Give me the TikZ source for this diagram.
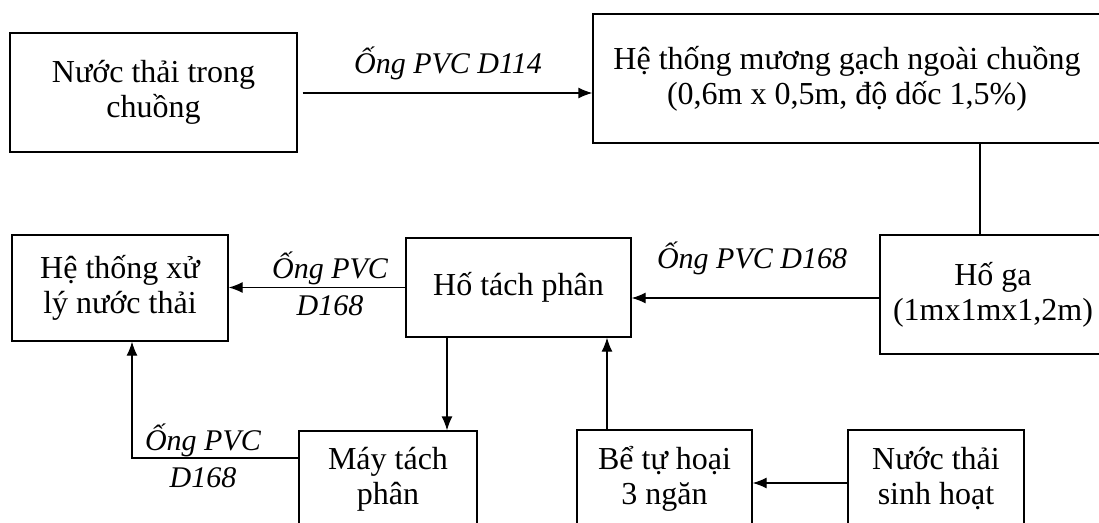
\documentclass[tikz,border=0pt]{standalone}
\usepackage{fontspec}
\setmainfont{Liberation Serif}
\usetikzlibrary{arrows.meta}
\begin{document}
\begin{tikzpicture}[x=1pt,y=-1pt,
  box/.style={draw, line width=1.3pt, align=center, inner sep=0pt, font=\fontsize{32}{35}\selectfont},
  lbl/.style={align=center, inner sep=0pt, font=\fontsize{30}{37}\selectfont\itshape},
  arr/.style={line width=1.3pt, -{Latex[length=14pt,width=11pt]}},
  ln/.style={line width=1.3pt}]
\clip (0,0) rectangle (1099,522);
\fill[white] (0,0) rectangle (1099,522);
% boxes
\node[box, minimum width=287pt, minimum height=119pt] (n1) at (153.5,92.5) {Nước thải trong\\chuồng};
\node[box, minimum width=508pt, minimum height=129pt] (n2) at (847,78.5) {Hệ thống mương gạch ngoài chuồng\\(0,6m x 0,5m, độ dốc 1,5\%)};
\node[box, minimum width=216pt, minimum height=106pt] (xl) at (120,288) {Hệ thống xử\\lý nước thải};
\node[box, minimum width=225pt, minimum height=99pt] (ht) at (518.5,287.5) {Hố tách phân};
\node[box, minimum width=226pt, minimum height=119pt] (hg) at (993,294.5) {Hố ga\\(1mx1mx1,2m)};
\node[box, minimum width=178pt, minimum height=96pt] (mt) at (388,479) {Máy tách\\phân};
\node[box, minimum width=175pt, minimum height=97pt] (bt) at (664.5,478.5) {Bể tự hoại\\3 ngăn};
\node[box, minimum width=176pt, minimum height=97pt] (ns) at (936,478.5) {Nước thải\\sinh hoạt};
% helper coordinates
\coordinate (yA) at (0,93);
\coordinate (xV) at (980,0);
\coordinate (yB) at (0,298);
\coordinate (xD) at (447,0);
\coordinate (yE) at (0,458);
\coordinate (xF) at (132,0);
\coordinate (xU) at (607,0);
\coordinate (yN) at (0,483);
% connectors
\draw[arr, shorten <=5pt] (n1.east |- yA) -- (n2.west |- yA);
\draw[ln] (n2.south -| xV) -- (hg.north -| xV);
\draw[arr] (hg.west |- yB) -- (ht.east |- yB);
\draw[arr] (ht.west) -- (xl.east |- ht.west);
\draw[arr] (ht.south -| xD) -- (mt.north -| xD);
\draw[arr] (mt.west |- yE) -| (xl.south -| xF);
\draw[arr] (bt.north -| xU) -- (ht.south -| xU);
\draw[arr] (ns.west |- yN) -- (bt.east |- yN);
% labels
\node[lbl] (l1) at (448,63) {Ống PVC D114};
\node[lbl] (l2) at (752,258) {Ống PVC D168};
\node[lbl] (l3) at (330,283.5) {Ống PVC\\D168};
\node[lbl] (l4) at (203,456) {Ống PVC\\D168};
\end{tikzpicture}
\end{document}
